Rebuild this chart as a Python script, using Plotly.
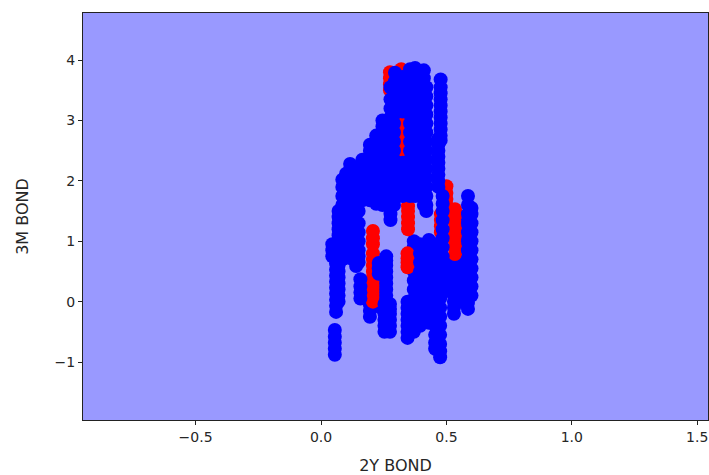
import plotly.graph_objects as go

back_col_x = [0.195, 0.240, 0.530, 0.560, 0.370]
back_col_y = [
    [-0.25, -0.15, -0.05, 0.05, 0.15, 0.25],
    [-0.1, 0.0, 0.1, 0.2, 0.3],
    [-0.2, -0.1, 0.0, 0.1, 0.2, 0.3, 0.4, 0.5, 0.6, 0.7],
    [0.0, 0.1, 0.2, 0.3, 0.4, 0.5, 0.6, 0.7, 0.8, 0.9, 1.0, 1.1, 1.2, 1.3, 1.4],
    [-0.5, -0.38, -0.25, -0.1, 0.05, 0.2, 0.35, 0.5, 0.65, 0.8, 0.9, 1.0],
]
red_col_x = [0.207, 0.347, 0.345, 0.534, 0.500, 0.478, 0.275, 0.320, 0.325, 0.250]
red_col_y = [
    [0.0, 0.1, 0.2, 0.3, 0.4, 0.5, 0.6, 0.7, 0.8, 0.95, 1.05, 1.17],
    [1.2, 1.3, 1.4, 1.5, 1.58],
    [0.57, 0.65, 0.72, 0.8],
    [0.79, 0.9, 1.0, 1.1, 1.2, 1.3, 1.42, 1.53],
    [1.4, 1.5, 1.6, 1.7, 1.8, 1.91],
    [1.15, 1.25, 1.35, 1.45],
    [3.5, 3.6, 3.7, 3.8],
    [3.6, 3.72, 3.85],
    [2.4, 2.5, 2.6, 2.7, 2.8, 2.9, 3.05],
    [1.95],
]
blue_col_x = [0.055, 0.060, 0.045, 0.070, 0.085, 0.100, 0.116, 0.140, 0.150, 0.165, 0.157,
              0.195, 0.220, 0.245, 0.230, 0.260, 0.253, 0.275, 0.277, 0.291, 0.295, 0.325, 0.325,
              0.355, 0.375, 0.345, 0.395, 0.410, 0.430, 0.420, 0.455, 0.475, 0.485, 0.477,
              0.468, 0.586, 0.600]
blue_col_y = [
    [-0.88, -0.78, -0.68, -0.58, -0.47],
    [-0.17, -0.07, 0.03, 0.13, 0.23, 0.33, 0.43, 0.53, 0.63],
    [0.75, 0.85, 0.95],
    [0.0, 0.1, 0.2, 0.3, 0.4, 0.5, 0.6, 0.7, 0.8, 0.9, 1.0, 1.1, 1.2, 1.3, 1.4, 1.5],
    [0.7, 0.85, 1.0, 1.15, 1.3, 1.45, 1.6, 1.75, 1.9, 2.02],
    [0.8, 0.95, 1.1, 1.25, 1.4, 1.55, 1.7, 1.85, 2.0, 2.12],
    [0.72, 0.85, 1.0, 1.15, 1.3, 1.45, 1.6, 1.75, 1.9, 2.05, 2.18, 2.28],
    [0.59, 0.7, 0.85, 1.0, 1.15, 1.3, 1.45, 1.6, 1.75, 1.9, 2.05, 2.18],
    [0.65, 0.75, 0.85, 1.0, 1.15, 1.3, 1.5, 1.7, 1.9, 2.1],
    [1.68, 1.8, 1.95, 2.1, 2.25, 2.35],
    [0.05, 0.15, 0.25, 0.37],
    [1.68, 1.8, 1.95, 2.1, 2.25, 2.4, 2.5, 2.6],
    [1.62, 1.75, 1.9, 2.05, 2.2, 2.35, 2.5, 2.65, 2.75],
    [1.6, 1.72, 1.85, 2.05, 2.2, 2.35, 2.5, 2.65, 2.8, 2.9, 3.0],
    [0.46, 0.55, 0.64],
    [0.0, 0.1, 0.2, 0.3, 0.4, 0.5, 0.6, 0.68, 0.75],
    [-0.5, -0.4, -0.3, -0.2, -0.12, -0.04],
    [-0.5, -0.4, -0.3, -0.2, -0.12, -0.04],
    [1.35, 1.45, 1.55, 1.7, 1.85, 2.0, 2.15, 2.3, 2.45, 2.6, 2.75, 2.9, 3.05, 3.2, 3.35, 3.55],
    [1.6, 1.75, 1.9, 2.05, 2.2, 2.35, 2.5, 2.65, 2.8, 2.95, 3.1, 3.25, 3.4, 3.55],
    [3.2, 3.35, 3.5, 3.65, 3.79],
    [1.75, 1.9, 2.05, 2.2, 2.3],
    [3.15, 3.3, 3.45, 3.6, 3.72],
    [1.75, 1.9, 2.05, 2.2, 2.35, 2.5, 2.65, 2.8, 2.95, 3.1, 3.25, 3.4, 3.55, 3.7, 3.85],
    [1.75, 1.9, 2.05, 2.2, 2.35, 2.5, 2.65, 2.8, 2.95, 3.1, 3.25, 3.4, 3.55, 3.7, 3.87],
    [-0.6, -0.5, -0.4, -0.3, -0.2, -0.1, 0.0],
    [-0.4, -0.25, -0.1, 0.05, 0.2, 0.35, 0.5, 0.65, 0.8, 0.95],
    [1.6, 1.75, 1.9, 2.05, 2.2, 2.35, 2.5, 2.65, 2.8, 2.95, 3.1, 3.25, 3.4, 3.55, 3.7, 3.83],
    [-0.35, -0.2, -0.05, 0.1, 0.25, 0.4, 0.55, 0.7, 0.85, 0.95, 1.02],
    [1.5, 1.6, 1.75, 1.9, 2.05, 2.2, 2.35, 2.5, 2.65, 2.8, 2.95, 3.1, 3.25, 3.4, 3.55],
    [-0.78, -0.68, -0.55, -0.4, -0.25, -0.1, 0.05, 0.2, 0.35, 0.5, 0.65, 0.8, 0.95],
    [-0.92, -0.82, -0.7, -0.55, -0.4, -0.25, -0.1, 0.05, 0.2, 0.35, 0.5, 0.65, 0.8],
    [0.15, 0.3, 0.45, 0.6, 0.75, 0.9, 1.05, 1.2, 1.35, 1.5, 1.62, 1.75],
    [2.67, 2.75, 2.85, 2.95, 3.05, 3.15, 3.25, 3.35, 3.45, 3.55, 3.68],
    [1.9, 2.0, 2.1, 2.2, 2.3, 2.4, 2.5, 2.6, 2.7],
    [-0.12, -0.02, 0.1, 0.25, 0.4, 0.55, 0.7, 0.85, 1.0, 1.15, 1.3, 1.45, 1.6, 1.75],
    [0.1, 0.25, 0.4, 0.55, 0.7, 0.85, 1.0, 1.15, 1.3, 1.45, 1.55],
]
x_ticks = [-0.5, 0.0, 0.5, 1.0, 1.5]
x_tick_labels = ["\u22120.5", "0.0", "0.5", "1.0", "1.5"]
y_ticks = [-1, 0, 1, 2, 3, 4]
y_tick_labels = ["\u22121", "0", "1", "2", "3", "4"]


def flatten(col_x, col_y):
    xs, ys = [], []
    for x, col in zip(col_x, col_y):
        xs += [x] * len(col)
        ys += col
    return xs, ys


fig = go.Figure()
for col_x, col_y, color in [(back_col_x, back_col_y, "#0000ff"),
                            (red_col_x, red_col_y, "#ff0000"),
                            (blue_col_x, blue_col_y, "#0000ff")]:
    xs, ys = flatten(col_x, col_y)
    fig.add_trace(go.Scatter(x=xs, y=ys, mode="markers", showlegend=False,
                             marker=dict(color=color, size=14, line=dict(width=0))))

tick_font = dict(family="DejaVu Sans", size=14, color="#262626")
title_font = dict(family="DejaVu Sans", size=16, color="#262626")
axis_style = dict(showgrid=False, zeroline=False, showline=True, mirror=True, linecolor="#222222",
                  linewidth=1, ticks="outside", ticklen=4, tickcolor="#222222", tickwidth=1,
                  tickfont=tick_font)
fig.update_xaxes(range=[-0.949, 1.543], tickvals=x_ticks, ticktext=x_tick_labels,
                 title=dict(text="2Y BOND", standoff=18, font=title_font), **axis_style)
fig.update_yaxes(range=[-1.96, 4.78], tickvals=y_ticks, ticktext=y_tick_labels,
                 title=dict(text="3M BOND", standoff=21, font=title_font), **axis_style)
fig.update_layout(width=709, height=475, margin=dict(l=83, r=1, t=13, b=55, autoexpand=False),
                  plot_bgcolor="#9999ff", paper_bgcolor="#ffffff")
fig.write_html("out.html", post_script="document.body.style.margin='0';",
               config=dict(displayModeBar=False))
